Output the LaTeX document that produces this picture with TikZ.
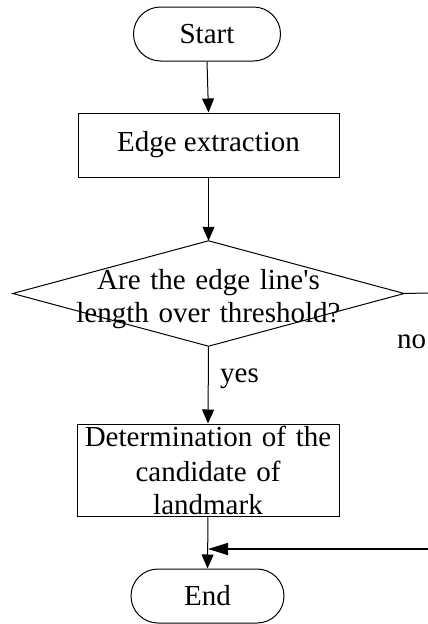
\documentclass[tikz,border=0pt]{standalone}
\usepackage{fontspec}
\setmainfont{Liberation Serif}[Ligatures=TeXOff]
\usetikzlibrary{arrows.meta}
\begin{document}
\begin{tikzpicture}[x=1pt,y=-1pt,
  every node/.style={font=\fontsize{29}{33}\selectfont, inner sep=0pt},
  term/.style={draw, line width=1pt, rounded corners=27pt, minimum height=54pt},
  proc/.style={draw, line width=1pt, rectangle},
  flow/.style={line width=1pt, -{Triangle[width=12pt,length=14pt]}},
  plain/.style={line width=1pt}]
\useasboundingbox (0,0) rectangle (428,624);
\node[term, minimum width=147pt] (start) at (207,34) {Start};
\node[proc, minimum width=261pt, minimum height=64pt] (edge) at (208.5,145) {Edge extraction};
\node[minimum width=391pt, minimum height=105pt] (q) at (208.5,293.5) {};
\draw[plain] (q.west) -- (q.north) -- (q.east) -- (q.south) -- cycle;
\node[text width=320pt, align=center] (qt) at ([yshift=-6pt]q.center) {Are the edge line's\\length over threshold?};
\node[proc, minimum width=262pt, minimum height=92pt, text width=262pt, align=center] (det) at (208,470) {\raisebox{2pt}{Determination of the}\\candidate of\\landmark};
\node[term, minimum width=153pt] (end) at (207.5,596) {End};
\node[anchor=west] (yes) at (220,379) {yes};
\node[anchor=west] (no) at (397,342) {no};
\coordinate (rout) at (428,293);
\coordinate (rin) at (428,549);
\coordinate (join) at (208,549);
\draw[flow] (start.south) -- (edge.north);
\draw[flow] (edge.south) -- (q.north);
\draw[flow] (q.south) -- (det.north);
\draw[flow] (det.south) -- (end.north);
\draw[plain] (q.east) -- (rout);
\draw[line width=1.6pt, -{Triangle[width=12pt,length=20pt]}] (rin) -- (join);
\end{tikzpicture}
\end{document}
